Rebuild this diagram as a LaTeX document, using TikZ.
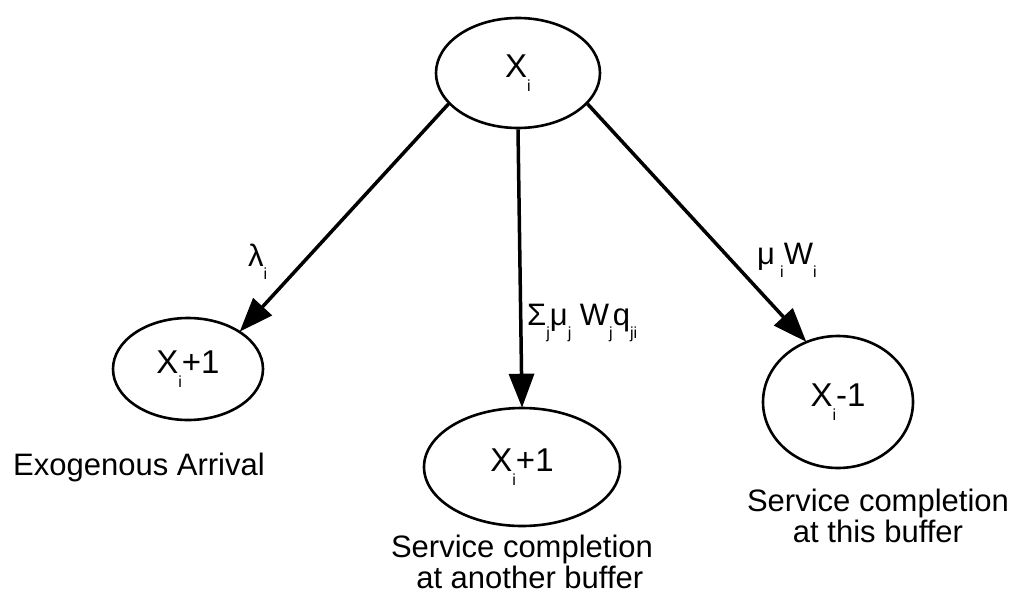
\documentclass[tikz,border=0pt]{standalone}
\usepackage{fontspec}
\setmainfont{Liberation Sans}
\usetikzlibrary{shapes.geometric,arrows.meta}
\newcommand\sbs[1]{\raisebox{-0.42em}{\fontsize{16}{16}\selectfont #1}}
\begin{document}
\begin{tikzpicture}[x=1pt,y=-1pt,
  state/.style={draw,ellipse,line width=2.6pt,inner sep=0pt,font=\fontsize{33}{38}\selectfont},
  arr/.style={line width=3.5pt,-{Triangle[length=34pt,width=25pt]},shorten >=-1pt},
  lbl/.style={inner sep=0pt,font=\fontsize{31}{36}\selectfont,align=center}]
\useasboundingbox (0,0) rectangle (1024,594);
\node[state,minimum width=164pt,minimum height=110pt] (top) at (518,73) {X\sbs{i}};
\node[state,minimum width=150pt,minimum height=102pt] (left) at (188,369) {X\sbs{i}+1};
\node[state,minimum width=196pt,minimum height=118pt] (mid) at (522,467) {X\sbs{i}+1};
\node[state,minimum width=150pt,minimum height=132pt] (right) at (838,402) {X\sbs{i}-1};
\draw[arr] (top.204) -- (left.36);
\draw[arr] (top.south) -- (mid.north);
\draw[arr] (top.336) -- (right.118);
\node[lbl,anchor=west] (l1) at (248,262) {λ\sbs{i}};
\node[lbl,anchor=west] (l2) at (527,323) {Σ\sbs{j}μ\sbs{j} W\sbs{j}q\sbs{ji}};
\node[lbl,anchor=west] (l3) at (757,260) {μ\,\sbs{i}W\sbs{i}};
\node[lbl] (c1) at (139,467) {Exogenous Arrival};
\node[lbl] (c2) at (522,562) {Service completion\\[-5pt]\hspace*{0.5em}at another buffer};
\node[lbl] (c3) at (878,516) {Service completion\\[-5pt]at this buffer};
\end{tikzpicture}
\end{document}
